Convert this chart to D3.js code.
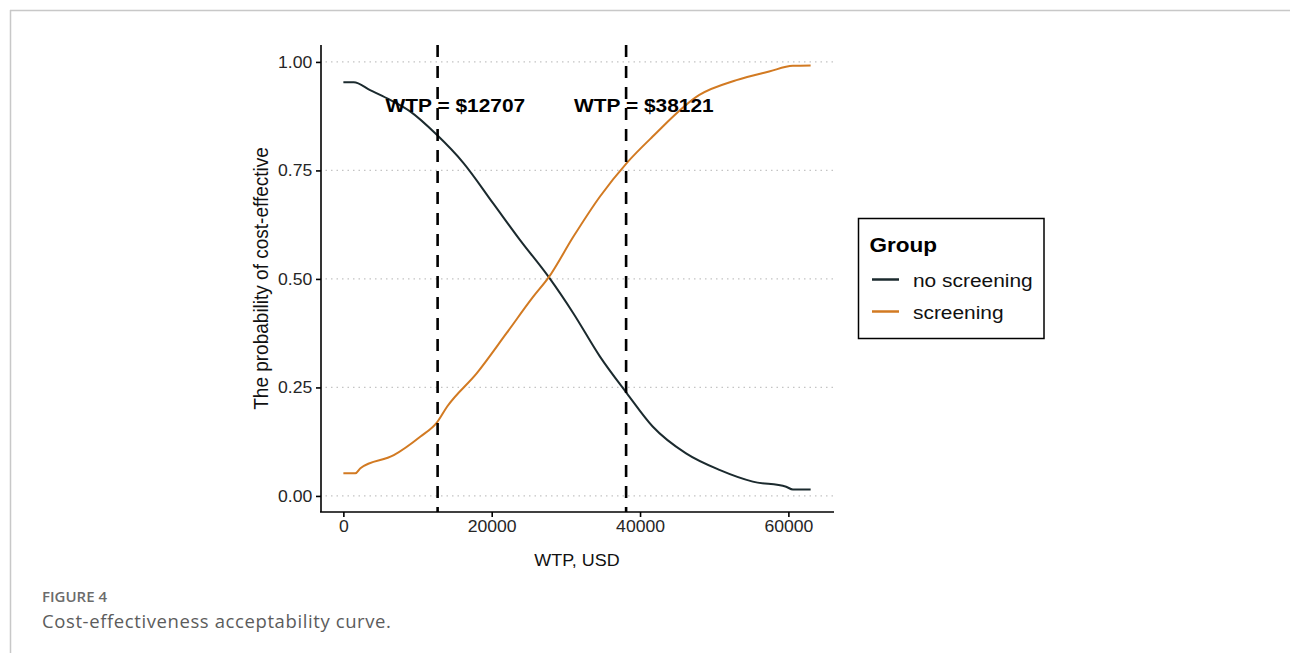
<!DOCTYPE html>
<html>
<head>
<meta charset="utf-8">
<script src="https://cdn.jsdelivr.net/npm/d3@7"></script>
<style>
  html, body { margin: 0; padding: 0; background: #fff; }
  svg { display: block; }
</style>
</head>
<body>
<svg id="chart" width="1290" height="653"></svg>
<script>
// ---------- data ----------
const wtpNoScreening = [0, 1400, 3600, 5900, 9000, 12600, 16200, 20200, 23800, 27700, 31000, 34600, 38200, 41700, 46200, 50700, 55200, 59700, 60600, 63000];
const probNoScreening = [0.953, 0.953, 0.935, 0.916, 0.886, 0.832, 0.767, 0.674, 0.590, 0.504, 0.421, 0.321, 0.237, 0.160, 0.098, 0.060, 0.033, 0.021, 0.015, 0.015];
const wtpScreening = [0, 1600, 2300, 6800, 10400, 12600, 14000, 18000, 22000, 25600, 27700, 31000, 34600, 38200, 41700, 48000, 53000, 57400, 60600, 63000];
const probScreening = [0.052, 0.052, 0.064, 0.094, 0.137, 0.169, 0.206, 0.283, 0.375, 0.459, 0.504, 0.597, 0.690, 0.767, 0.828, 0.924, 0.958, 0.978, 0.991, 0.992];
const groupNames = ["no screening", "screening"];
const thresholdWTP = [12707, 38121];
const thresholdLabels = ["WTP = $12707", "WTP = $38121"];
const thresholdLabelProb = 0.9;
const xTickValues = [0, 20000, 40000, 60000];
const yTickValues = [0, 0.25, 0.5, 0.75, 1];
const yTickLabels = ["0.00", "0.25", "0.50", "0.75", "1.00"];
const xTitle = "WTP, USD";
const yTitle = "The probability of cost-effective";
const legendTitle = "Group";
const figureLabel = "FIGURE 4";
const figureCaption = "Cost-effectiveness acceptability curve.";

// ---------- setup ----------
const colors = { "no screening": "#1b2a2e", "screening": "#d27a22" };
const SX = 1.1; // horizontal stretch of the original raster text
const font = "'Liberation Sans', Arial, sans-serif";
const svg = d3.select("#chart");

// page frame
svg.append("line").attr("x1", 10).attr("x2", 1290).attr("y1", 10.5).attr("y2", 10.5)
  .attr("stroke", "#c8c8c8").attr("stroke-width", 1.5);
svg.append("line").attr("x1", 10.5).attr("x2", 10.5).attr("y1", 10).attr("y2", 653)
  .attr("stroke", "#c8c8c8").attr("stroke-width", 1.5);

const x = d3.scaleLinear().domain([-3150, 66150]).range([320, 834]);
const y = d3.scaleLinear().domain([-0.037, 1.039]).range([512, 45]);

// gridlines
svg.append("g").selectAll("line").data(yTickValues).join("line")
  .attr("x1", x.range()[0]).attr("x2", x.range()[1])
  .attr("y1", d => y(d)).attr("y2", d => y(d))
  .attr("stroke", "#c4c4c4").attr("stroke-width", 1.3)
  .attr("stroke-dasharray", "1.5,4");

// curves
const series = [
  { name: groupNames[0], pts: wtpNoScreening.map((w, i) => [w, probNoScreening[i]]) },
  { name: groupNames[1], pts: wtpScreening.map((w, i) => [w, probScreening[i]]) }
];
const line = d3.line().x(d => x(d[0])).y(d => y(d[1])).curve(d3.curveMonotoneX);
svg.append("g").selectAll("path").data(series).join("path")
  .attr("d", d => line(d.pts))
  .attr("fill", "none")
  .attr("stroke", d => colors[d.name])
  .attr("stroke-width", 2);

// threshold dashed lines
svg.append("g").selectAll("line").data(thresholdWTP).join("line")
  .attr("x1", d => x(d)).attr("x2", d => x(d))
  .attr("y1", y.range()[1]).attr("y2", y.range()[0])
  .attr("stroke", "#000").attr("stroke-width", 2.6)
  .attr("stroke-dasharray", "12,9");

// axes
const xAxis = svg.append("g").attr("transform", `translate(0,${y.range()[0]})`)
  .call(d3.axisBottom(x).tickValues(xTickValues).tickFormat(d3.format("d")).tickSizeOuter(0).tickSize(5).tickPadding(4));
const yAxis = svg.append("g").attr("transform", `translate(${x.range()[0] + 1},0)`)
  .call(d3.axisLeft(y).tickValues(yTickValues).tickFormat((d, i) => yTickLabels[i]).tickSizeOuter(0).tickSize(5).tickPadding(3));
[xAxis, yAxis].forEach(a => {
  a.select(".domain").attr("stroke", "#000").attr("stroke-width", 1.6);
  a.selectAll(".tick line").attr("stroke", "#000").attr("stroke-width", 1.6);
  a.selectAll(".tick text").attr("font-family", font).attr("font-size", 16).attr("fill", "#262626")
    .attr("transform", `scale(${SX},1)`);
});
xAxis.select(".domain").attr("d", `M${x.range()[0]},0H${x.range()[1]}`);
yAxis.select(".domain").attr("d", `M0,${y.range()[0]}V${y.range()[1]}`);

function stext(px, py, str, size, opts = {}) {
  return svg.append("text")
    .attr("transform", `translate(${px},${py}) scale(${SX},1)`)
    .attr("font-family", font)
    .attr("font-size", size)
    .attr("font-weight", opts.bold ? "bold" : "normal")
    .attr("text-anchor", opts.anchor || "start")
    .attr("fill", opts.fill || "#000")
    .text(str);
}

// axis titles
stext((x.range()[0] + x.range()[1]) / 2, 566, xTitle, 16.3, { anchor: "middle", fill: "#111" });
svg.append("text")
  .attr("transform", `translate(268,${(y.range()[0] + y.range()[1]) / 2}) rotate(-90) scale(1,${SX})`)
  .attr("font-family", font).attr("font-size", 19).attr("text-anchor", "middle").attr("fill", "#111")
  .text(yTitle);

// threshold labels
const labelOffset = 2400;
thresholdWTP.forEach((w, i) => {
  stext(x(w + labelOffset), y(thresholdLabelProb) + 6.7, thresholdLabels[i], 19, { bold: true, anchor: "middle" });
});

// legend
svg.append("rect").attr("x", 858.5).attr("y", 218.5).attr("width", 185.5).attr("height", 120)
  .attr("fill", "#fff").attr("stroke", "#000").attr("stroke-width", 1.5);
stext(869.5, 251.5, legendTitle, 20.5, { bold: true });
const legendRows = [279.5, 311.5];
groupNames.forEach((g, i) => {
  svg.append("line").attr("x1", 872).attr("x2", 899).attr("y1", legendRows[i]).attr("y2", legendRows[i])
    .attr("stroke", colors[g]).attr("stroke-width", 2.5);
  stext(913, legendRows[i] + 7, g, 19, { fill: "#111" });
});

// figure caption
svg.append("text").attr("x", 42).attr("y", 602)
  .attr("font-family", "'Open Sans', sans-serif").attr("font-size", 15).attr("font-weight", 600)
  .attr("fill", "#6b6b6b").text(figureLabel);
svg.append("text").attr("x", 42).attr("y", 628)
  .attr("font-family", "'Open Sans', sans-serif").attr("font-size", 18.5)
  .attr("letter-spacing", 0.6)
  .attr("fill", "#5c5c5c").text(figureCaption);
</script>
</body>
</html>
